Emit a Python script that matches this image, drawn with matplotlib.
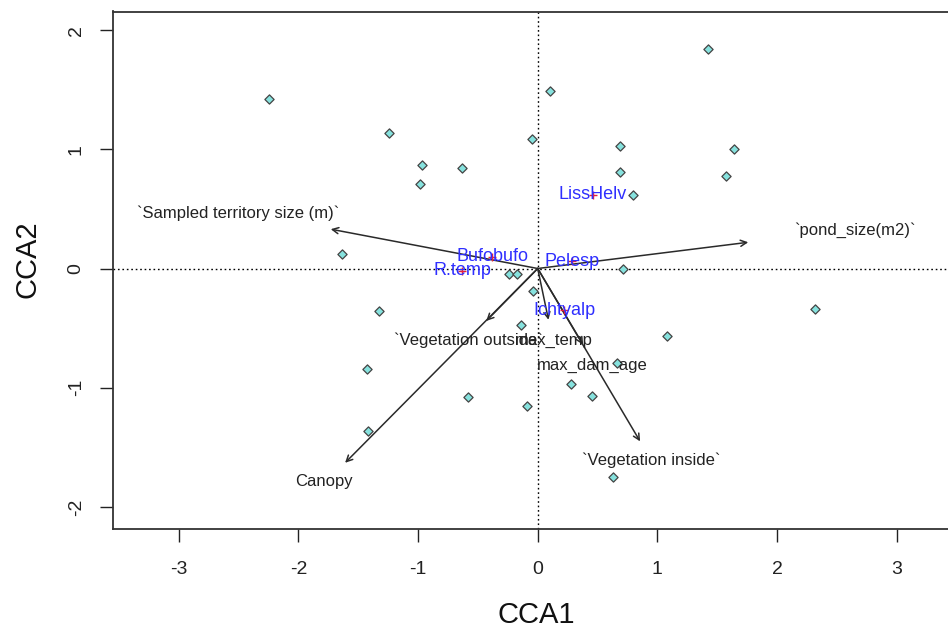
import matplotlib
matplotlib.use("Agg")
import matplotlib.pyplot as plt

plt.rcParams['font.family'] = ['Liberation Sans', 'DejaVu Sans']

# Site scores (CCA1, CCA2)
site_x = [-2.25, -1.24, -0.97, -0.98, -0.63, 0.10, -0.05, 1.42, 0.69, 0.69, 0.80, 1.64, 1.57,
          0.71, -1.64, -0.24, -0.17, -0.04, -0.14, 0.66, 0.28, 0.45, 1.08, 2.32, -1.33, -1.43,
          -1.42, -0.58, -0.09, 0.63]
site_y = [1.42, 1.14, 0.87, 0.71, 0.84, 1.49, 1.09, 1.84, 1.03, 0.81, 0.62, 1.00, 0.78,
          0.00, 0.12, -0.05, -0.05, -0.19, -0.47, -0.79, -0.97, -1.07, -0.57, -0.34, -0.36, -0.84,
          -1.36, -1.08, -1.15, -1.75]

# Species scores
species = ["LissHelv", "Bufobufo", "R.temp", "Pelesp", "Ichtyalp"]
species_x = [0.46, -0.38, -0.63, 0.29, 0.22]
species_y = [0.62, 0.10, -0.02, 0.06, -0.35]

# Environmental arrows
env_names = ["`Sampled territory size (m)`", "`pond_size(m2)`", "`Vegetation outside`",
             "Canopy", "max_temp", "max_dam_age", "`Vegetation inside`"]
env_x = [-1.73, 1.76, -0.43, -1.61, 0.09, 0.38, 0.856]
env_y = [0.33, 0.22, -0.44, -1.63, -0.43, -0.64, -1.45]
env_label_x = [-2.506, 2.65, -0.58, -1.785, 0.138, 0.46, 0.95]
env_label_y = [0.465, 0.32, -0.60, -1.79, -0.60, -0.81, -1.61]

xticks = [-3, -2, -1, 0, 1, 2, 3]
yticks = [-2, -1, 0, 1, 2]

fig = plt.figure(figsize=(9.48, 6.28), dpi=100)
ax = fig.add_axes([113/948, 1-528.5/628, (962.4-113)/948, (528.5-11.5)/628])
ax.set_xlim(-3.55, 3.55)
ax.set_ylim(-2.181, 2.156)

ax.axhline(0, color='black', lw=1.0, ls=(0, (1.2, 2)), zorder=1)
ax.axvline(0, color='black', lw=1.0, ls=(0, (1.2, 2)), zorder=1)

ax.scatter(site_x, site_y, marker='D', s=22, facecolor='#86e2de', edgecolor='#444444',
           linewidths=0.9, zorder=3)

for x, y in zip(env_x, env_y):
    ax.annotate('', xy=(x, y), xytext=(0, 0),
                arrowprops=dict(arrowstyle='->', color='#2a2a2a', lw=1.1,
                                shrinkA=0, shrinkB=0, mutation_scale=11), zorder=2)
for name, x, y in zip(env_names, env_label_x, env_label_y):
    ax.text(x, y, name, ha='center', va='center', fontsize=12, color='#222222', zorder=4)

ax.scatter(species_x, species_y, marker='+', s=30, color='#e8203a', linewidths=1.0, zorder=4)
for name, x, y in zip(species, species_x, species_y):
    ax.text(x, y, name, ha='center', va='center', fontsize=13, color='#2f2fff', zorder=5)

ax.set_xticks(xticks)
ax.set_yticks(yticks)
ax.set_xticklabels([str(t) for t in xticks])
ax.set_yticklabels([str(t) for t in yticks])
ax.tick_params(axis='both', direction='out', length=9.4, width=1.0, colors='#222222',
               labelsize=14, labelcolor='#222222')
ax.tick_params(axis='x', pad=14)
ax.tick_params(axis='y', pad=11, labelrotation=90)
for lab in ax.get_yticklabels():
    lab.set_va('center')

for sp in ax.spines.values():
    sp.set_color('#333333')
    sp.set_linewidth(1.3)

ax.set_xlabel('CCA1', fontsize=21, color='#111111')
ax.xaxis.set_label_coords(0.498, -0.168)
ax.xaxis.label.set_va('center')
ax.set_ylabel('CCA2', fontsize=21, color='#111111')
ax.yaxis.set_label_coords(-0.101, 0.521)
ax.yaxis.label.set_va('center')

fig.savefig('out.png', dpi=100)
